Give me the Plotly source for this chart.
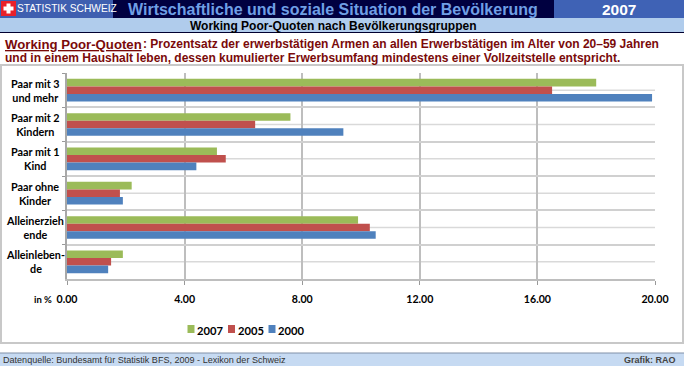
import plotly.graph_objects as go

categories = ["Paar mit 3<br>und mehr", "Paar mit 2<br>Kindern", "Paar mit 1<br>Kind",
              "Paar ohne<br>Kinder", "Alleinerzieh<br>ende", "Alleinleben-<br>de"]
values_2007 = [18.0, 7.6, 5.1, 2.2, 9.9, 1.9]
values_2005 = [16.5, 6.4, 5.4, 1.8, 10.3, 1.5]
values_2000 = [19.9, 9.4, 4.4, 1.9, 10.5, 1.4]
series = [("2007", values_2007, "#9BBB59"), ("2005", values_2005, "#C0504D"), ("2000", values_2000, "#4F81BD")]
x_ticks = [0, 4, 8, 12, 16, 20]

W, H = 684, 366
L, R, T, B = 67, 655, 73, 279
def X(p): return (p - L) / (R - L)
def Y(p): return (B - p) / (B - T)

fig = go.Figure()
for name, vals, col in series:
    fig.add_trace(go.Bar(y=categories, x=vals, name=name, orientation="h", marker=dict(color=col, line=dict(width=0)), showlegend=False))

shapes, ann = [], []
def rect(x0, y0, x1, y1, fill, line=None, lw=0, layer="below"):
    shapes.append(dict(type="rect", xref="paper", yref="paper", x0=X(x0), x1=X(x1), y0=Y(y0), y1=Y(y1),
                       fillcolor=fill, line=dict(color=line or fill, width=lw), layer=layer))
def text(x, y, s, size, color, family="Liberation Sans", anchor="left"):
    pad = {"left": -2, "right": 2, "center": 0}[anchor]
    ann.append(dict(xref="paper", yref="paper", x=X(x + pad), y=Y(y), text=s, showarrow=False, xanchor=anchor, yanchor="middle",
                    align="center", font=dict(size=size, color=color, family=family)))

# header
rect(0, 0, 684, 18, "#000040")
rect(0, 0, 113, 18, "#3F5FB0")
rect(1, 1, 16, 16, "#E8202A")
rect(6.5, 3.5, 10.5, 13.5, "#FFFFFF")
rect(3.5, 6.5, 13.5, 10.5, "#FFFFFF")
rect(554, 0, 684, 18, "#3F62B5")
rect(0, 18, 684, 32, "#B0CCEC")
shapes.append(dict(type="line", xref="paper", yref="paper", x0=X(0), x1=X(684), y0=Y(32.5), y1=Y(32.5), line=dict(color="#000030", width=1)))
text(17, 9, "STATISTIK SCHWEIZ", 10.2, "#FFFFFF")
text(128, 9.5, "<b>Wirtschaftliche und soziale Situation der Bevölkerung</b>", 16, "#6F9FE5")
text(619, 9.5, "<b>2007</b>", 15.5, "#FFFFFF", anchor="center")
text(333, 25.5, "<b>Working Poor-Quoten nach Bevölkerungsgruppen</b>", 12, "#000000", anchor="center")
# intro
text(5, 44, "<b><u>Working Poor-Quoten</u></b>", 13.2, "#7A0A0A")
text(143, 44, "<b>: Prozentsatz der erwerbstätigen Armen an allen Erwerbstätigen im Alter von 20–59 Jahren</b>", 12, "#7A0A0A")
text(5, 58, "<b>und in einem Haushalt leben, dessen kumulierter Erwerbsumfang mindestens einer Vollzeitstelle entspricht.</b>", 12, "#7A0A0A")
# panel
rect(1, 65, 683, 343, "#FFFFFF", "#C8C8C8", 2)
# footer
rect(0, 353, 684, 366, "#C6DAF2")
shapes.append(dict(type="line", xref="paper", yref="paper", x0=X(0), x1=X(684), y0=Y(353), y1=Y(353), line=dict(color="#8090A8", width=1)))
text(3, 359.5, "Datenquelle: Bundesamt für Statistik BFS, 2009 - Lexikon der Schweiz", 9.05, "#333333")
text(676, 359.5, "<b>Grafik: RAO</b>", 9, "#444444", anchor="right")
# mid-category horizontal lines
for c in categories:
    shapes.append(dict(type="line", xref="paper", yref="y", x0=0, x1=1, y0=c, y1=c, line=dict(color="#D9D9D9", width=1.5), layer="below"))
# category labels
for c in categories:
    ann.append(dict(xref="paper", yref="y", x=X(35), y=c, text=f"<b>{c}</b>", showarrow=False, xanchor="center", yanchor="middle",
                    align="center", font=dict(size=10.8, color="#000000", family="Lato")))
text(43, 299, "<b>in %</b>", 9.5, "#000000", "Lato", anchor="center")
# legend
for i, (name, vals, col) in enumerate(series):
    x0 = 187.5 + i * 40.5
    rect(x0, 325, x0 + 7, 333, col)
    text(x0 + 9.5, 330, f"<b>{name}</b>", 11.2, "#000000", "Lato")

fig.update_layout(
    width=W, height=H, autosize=False, margin=dict(l=L, r=W - R, t=T, b=H - B),
    paper_bgcolor="#FFFFFF", plot_bgcolor="rgba(0,0,0,0)", barmode="group", bargap=0.34, bargroupgap=0,
    showlegend=False, shapes=shapes, annotations=ann,
    xaxis=dict(range=[0, 20], tickvals=x_ticks, tickformat=".2f", showgrid=True, gridcolor="#BEBEBE", gridwidth=1.5,
               showline=True, linecolor="#BEBEBE", linewidth=2, ticks="outside", ticklen=4, tickcolor="#999999",
               tickfont=dict(family="Lato", size=10.6, color="#000000", weight="bold"), zeroline=False, ticklabelstandoff=5),
    yaxis=dict(autorange="reversed", tickson="boundaries", showgrid=True, gridcolor="#D0D0D0", gridwidth=1.5,
               showline=True, linecolor="#A8A8A8", linewidth=2, ticks="outside", ticklen=3, tickcolor="#999999", showticklabels=False, zeroline=False),
)
fig.write_html("out.html", config=dict(displayModeBar=False),
               post_script="document.body.style.margin='0';document.documentElement.style.overflow='hidden';")
